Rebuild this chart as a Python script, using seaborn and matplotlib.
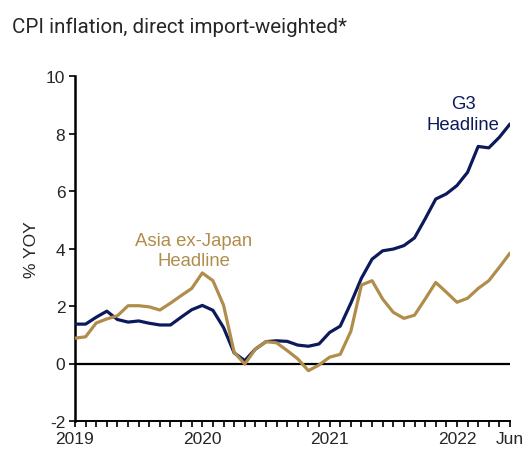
import numpy as np
import pandas as pd
import matplotlib
matplotlib.use("Agg")
import matplotlib.pyplot as plt
import seaborn as sns

months = pd.date_range("2019-01-01", "2022-06-01", freq="MS")
g3_headline = [1.37, 1.37, 1.61, 1.82, 1.53, 1.44, 1.48, 1.40, 1.34, 1.34,
               1.61, 1.87, 2.02, 1.85, 1.25, 0.37, 0.10, 0.50, 0.76, 0.79,
               0.77, 0.64, 0.60, 0.68, 1.08, 1.30, 2.10, 2.97, 3.63, 3.92,
               3.98, 4.10, 4.37, 5.03, 5.72, 5.90, 6.19, 6.65, 7.55, 7.50,
               7.87, 8.33]
asia_headline = [0.88, 0.93, 1.41, 1.55, 1.66, 2.01, 2.01, 1.97, 1.86, 2.10,
                 2.36, 2.61, 3.15, 2.88, 2.03, 0.39, -0.02, 0.50, 0.76, 0.72,
                 0.45, 0.16, -0.25, -0.05, 0.22, 0.32, 1.12, 2.73, 2.88, 2.24,
                 1.78, 1.57, 1.68, 2.24, 2.82, 2.48, 2.13, 2.27, 2.61, 2.88,
                 3.35, 3.84]
series_names = ["G3\nHeadline", "Asia ex-Japan\nHeadline"]
x_labels = {0: "2019", 12: "2020", 24: "2021", 36: "2022", 41: "Jun"}
y_ticks = [-2, 0, 2, 4, 6, 8, 10]

NAVY = "#0c1a5b"
GOLD = "#b08d4b"

df = pd.DataFrame({
    "idx": list(range(len(months))) * 2,
    "value": g3_headline + asia_headline,
    "series": [series_names[0]] * len(months) + [series_names[1]] * len(months),
})

sns.set_style("white")
plt.rcParams["font.family"] = ["Liberation Sans", "DejaVu Sans"]

fig = plt.figure(figsize=(5.29, 4.52), dpi=100)
ax = fig.add_axes([75 / 529, 1 - 422 / 452, (510 - 75) / 529, (422 - 77) / 452])

ax.axhline(0, color="black", lw=1.6, zorder=1)
sns.lineplot(data=df, x="idx", y="value", hue="series",
             palette=[NAVY, GOLD], hue_order=series_names,
             linewidth=2.3, legend=False, ax=ax, zorder=3)

ax.set_xlim(0, 41)
ax.set_ylim(-2, 10)
ax.set_yticks(y_ticks)
ax.set_yticklabels([str(t) for t in y_ticks], fontsize=12.5)
ax.set_xticks(range(len(months)))
ax.set_xticklabels([x_labels.get(i, "") for i in range(len(months))], fontsize=12.5)
ax.tick_params(axis="both", direction="out", length=4, width=1.2, color="black",
               bottom=True, left=True, pad=3)
ax.set_xlabel("")
ax.set_ylabel("")

for s in ["top", "right"]:
    ax.spines[s].set_visible(False)
ax.spines["left"].set_linewidth(1.8)
ax.spines["bottom"].set_linewidth(1.4)
ax.spines["left"].set_color("black")
ax.spines["bottom"].set_color("black")
ax.grid(False)

ax.text(36.6, 8.68, series_names[0], color=NAVY, fontsize=13.3,
        ha="center", va="center", linespacing=1.3)
ax.text(11.2, 3.93, series_names[1], color=GOLD, fontsize=13.3,
        ha="center", va="center", linespacing=1.2)

fig.text(12 / 529, 1 - 27 / 452, "CPI inflation, direct import-weighted*",
         fontsize=14.8, family=["Roboto", "DejaVu Sans"], ha="left", va="center")
fig.text(31 / 529, 1 - 250 / 452, "% YOY", rotation=90, fontsize=12.5,
         ha="center", va="center")

fig.savefig("out.png", dpi=100)
